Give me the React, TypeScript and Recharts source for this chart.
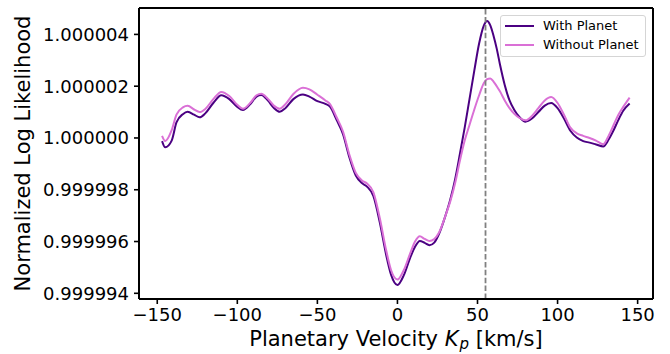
import React from 'react';
import { LineChart, Line, XAxis, YAxis, ReferenceLine, Legend } from 'recharts';

const velocity = [-147, -145, -141, -138, -134, -131, -127, -123.5, -120, -115, -110, -105, -100, -96.5, -92, -88, -85, -81, -77, -73.5, -70, -65, -59, -55, -50, -45, -42, -38, -34, -30, -26, -22, -19, -15, -11, -7, -4, 0, 4, 8, 11, 14, 17, 20, 23, 26, 30, 33, 36, 39, 42, 45, 48, 51, 54, 56, 58, 60, 62, 64, 67, 70, 73, 76, 80, 84, 88, 92, 96, 100, 104, 108, 112, 116, 120, 124, 128.5, 132, 135, 138, 141, 145];

const withPlanet = [0.99999988, 0.99999964, 0.9999999, 1.0000006, 1.00000092, 1.00000101, 1.0000009, 1.0000008, 1.00000095, 1.00000135, 1.00000165, 1.0000015, 1.0000012, 1.00000108, 1.0000013, 1.0000016, 1.00000166, 1.00000145, 1.00000115, 1.00000101, 1.00000115, 1.0000015, 1.00000168, 1.0000016, 1.00000142, 1.00000132, 1.0000012, 1.0000007, 1.00000015, 0.99999925, 0.99999855, 0.99999825, 0.99999812, 0.99999775, 0.99999673, 0.99999547, 0.99999472, 0.99999432, 0.9999947, 0.99999538, 0.9999958, 0.99999602, 0.99999595, 0.99999586, 0.99999596, 0.9999963, 0.999997, 0.99999762, 0.9999984, 0.99999938, 1.0000004, 1.0000015, 1.0000026, 1.00000365, 1.00000435, 1.00000452, 1.00000435, 1.00000395, 1.00000345, 1.00000285, 1.00000205, 1.00000145, 1.00000108, 1.00000082, 1.00000063, 1.00000075, 1.000001, 1.00000125, 1.00000135, 1.00000115, 1.00000075, 1.00000028, 1.00000002, 0.99999988, 0.99999982, 0.99999975, 0.99999967, 0.99999995, 1.0000003, 1.0000007, 1.00000105, 1.00000133];

const withoutPlanet = [1.00000008, 0.99999988, 1.0000003, 1.0000009, 1.00000118, 1.00000124, 1.0000011, 1.000001, 1.00000112, 1.0000015, 1.00000178, 1.00000162, 1.00000128, 1.00000113, 1.00000135, 1.00000165, 1.00000171, 1.00000152, 1.00000124, 1.00000113, 1.0000013, 1.0000017, 1.00000194, 1.00000188, 1.00000167, 1.00000145, 1.0000013, 1.0000008, 1.00000025, 0.99999935, 0.99999865, 0.99999835, 0.99999824, 0.9999979, 0.9999969, 0.99999565, 0.9999949, 0.99999453, 0.9999949, 0.99999555, 0.999996, 0.9999962, 0.9999961, 0.99999602, 0.9999961, 0.99999635, 0.999997, 0.99999755, 0.99999825, 0.99999912, 0.9999999, 1.0000005, 1.0000011, 1.00000165, 1.00000212, 1.00000227, 1.0000023, 1.00000218, 1.000002, 1.0000018, 1.00000145, 1.00000115, 1.00000093, 1.00000078, 1.00000068, 1.00000085, 1.00000115, 1.00000145, 1.00000158, 1.00000135, 1.0000009, 1.0000004, 1.00000018, 1.00000008, 1.0, 0.9999999, 0.99999976, 1.0000001, 1.0000005, 1.0000009, 1.0000012, 1.00000156];

const xTicks = [-150, -100, -50, 0, 50, 100, 150];
const yTicks = [0.999994, 0.999996, 0.999998, 1.0, 1.000002, 1.000004];
const planetKp = 55;
const seriesNames = ['With Planet', 'Without Planet'];
const seriesColors = ['#4B0082', '#DA70D6'];

const data = velocity.map((v, i) => ({ v, withP: withPlanet[i], withoutP: withoutPlanet[i] }));

const FONT = 'DejaVu Sans, sans-serif';
const X_DOMAIN: [number, number] = [-161.4, 159.6];
const Y_DOMAIN: [number, number] = [0.99999378, 1.00000502];

const XLabel = (props: any) => {
  const vb = props.viewBox || { x: 139, y: 299, width: 514, height: 55 };
  const cx = vb.x + vb.width / 2;
  return (
    <text x={cx} y={346} textAnchor="middle" fontSize={21} fontFamily={FONT} fill="#000">
      <tspan>{'Planetary Velocity '}</tspan>
      <tspan fontStyle="italic">K</tspan>
      <tspan fontStyle="italic" fontSize={15} dx={1} dy={3}>p</tspan>
      <tspan dy={-3}>{' [km/s]'}</tspan>
    </text>
  );
};

const YLabel = () => (
  <text
    x={23}
    y={153.5}
    transform="rotate(-90, 23, 153.5)"
    textAnchor="middle"
    dominantBaseline="central"
    fontSize={21}
    fontFamily={FONT}
    fill="#000"
  >
    Normalized Log Likelihood
  </text>
);

const LegendBox = () => (
  <div
    style={{
      position: 'relative',
      width: 146,
      height: 42,
      boxSizing: 'border-box',
      border: '1px solid #d5d5d5',
      borderRadius: 3,
      background: 'rgba(255,255,255,0.8)',
      fontFamily: FONT,
      fontSize: 13,
      color: '#000',
    }}
  >
    {seriesNames.map((name, i) => (
      <div key={name} style={{ position: 'absolute', left: 0, top: i === 0 ? 10 - 9 : 29.3 - 9, height: 18, width: 146 }}>
        <svg width={40} height={18} style={{ position: 'absolute', left: 0, top: 0 }}>
          <line x1={4} x2={33} y1={9} y2={9} stroke={seriesColors[i]} strokeWidth={2} />
        </svg>
        <span style={{ position: 'absolute', left: 42, top: 0, lineHeight: '18px', whiteSpace: 'nowrap' }}>{name}</span>
      </div>
    ))}
  </div>
);

export default function App() {
  return (
    <div style={{ position: 'absolute', left: 0, top: 0, width: 670, height: 354, background: '#fff' }}>
      <LineChart width={670} height={354} data={data} margin={{ top: 8, right: 17, bottom: 0, left: 0 }}>
        <XAxis
          dataKey="v"
          type="number"
          domain={X_DOMAIN}
          ticks={xTicks}
          allowDataOverflow
          height={55}
          tickSize={5}
          tickMargin={4}
          tickFormatter={(t: number) => String(t).replace('-', '\u2212')}
          tick={{ fontSize: 18, fontFamily: FONT, fill: '#000' }}
          tickLine={{ stroke: '#000', strokeWidth: 1.6 }}
          axisLine={{ stroke: '#000', strokeWidth: 2 }}
          label={<XLabel />}
        />
        <YAxis
          type="number"
          domain={Y_DOMAIN}
          ticks={yTicks}
          allowDataOverflow
          width={139}
          tickSize={5}
          tickMargin={5}
          tickFormatter={(t: number) => t.toFixed(6)}
          tick={{ fontSize: 18, fontFamily: FONT, fill: '#000' }}
          tickLine={{ stroke: '#000', strokeWidth: 1.6 }}
          axisLine={{ stroke: '#000', strokeWidth: 2 }}
          label={<YLabel />}
        />
        <Line
          type="monotone"
          dataKey="withP"
          name={seriesNames[0]}
          stroke={seriesColors[0]}
          strokeWidth={2}
          dot={false}
          isAnimationActive={false}
        />
        <Line
          type="monotone"
          dataKey="withoutP"
          name={seriesNames[1]}
          stroke={seriesColors[1]}
          strokeWidth={2}
          dot={false}
          isAnimationActive={false}
        />
        <ReferenceLine x={planetKp} stroke="#808080" strokeWidth={1.8} strokeDasharray="5.5 2.4" />
        <ReferenceLine y={Y_DOMAIN[1]} stroke="#000" strokeWidth={2} />
        <ReferenceLine x={X_DOMAIN[1]} stroke="#000" strokeWidth={2} />
        <Legend
          layout="vertical"
          align="center"
          verticalAlign="middle"
          wrapperStyle={{ left: 500, top: 15, width: 146, height: 42 }}
          content={() => <LegendBox />}
        />
      </LineChart>
    </div>
  );
}
